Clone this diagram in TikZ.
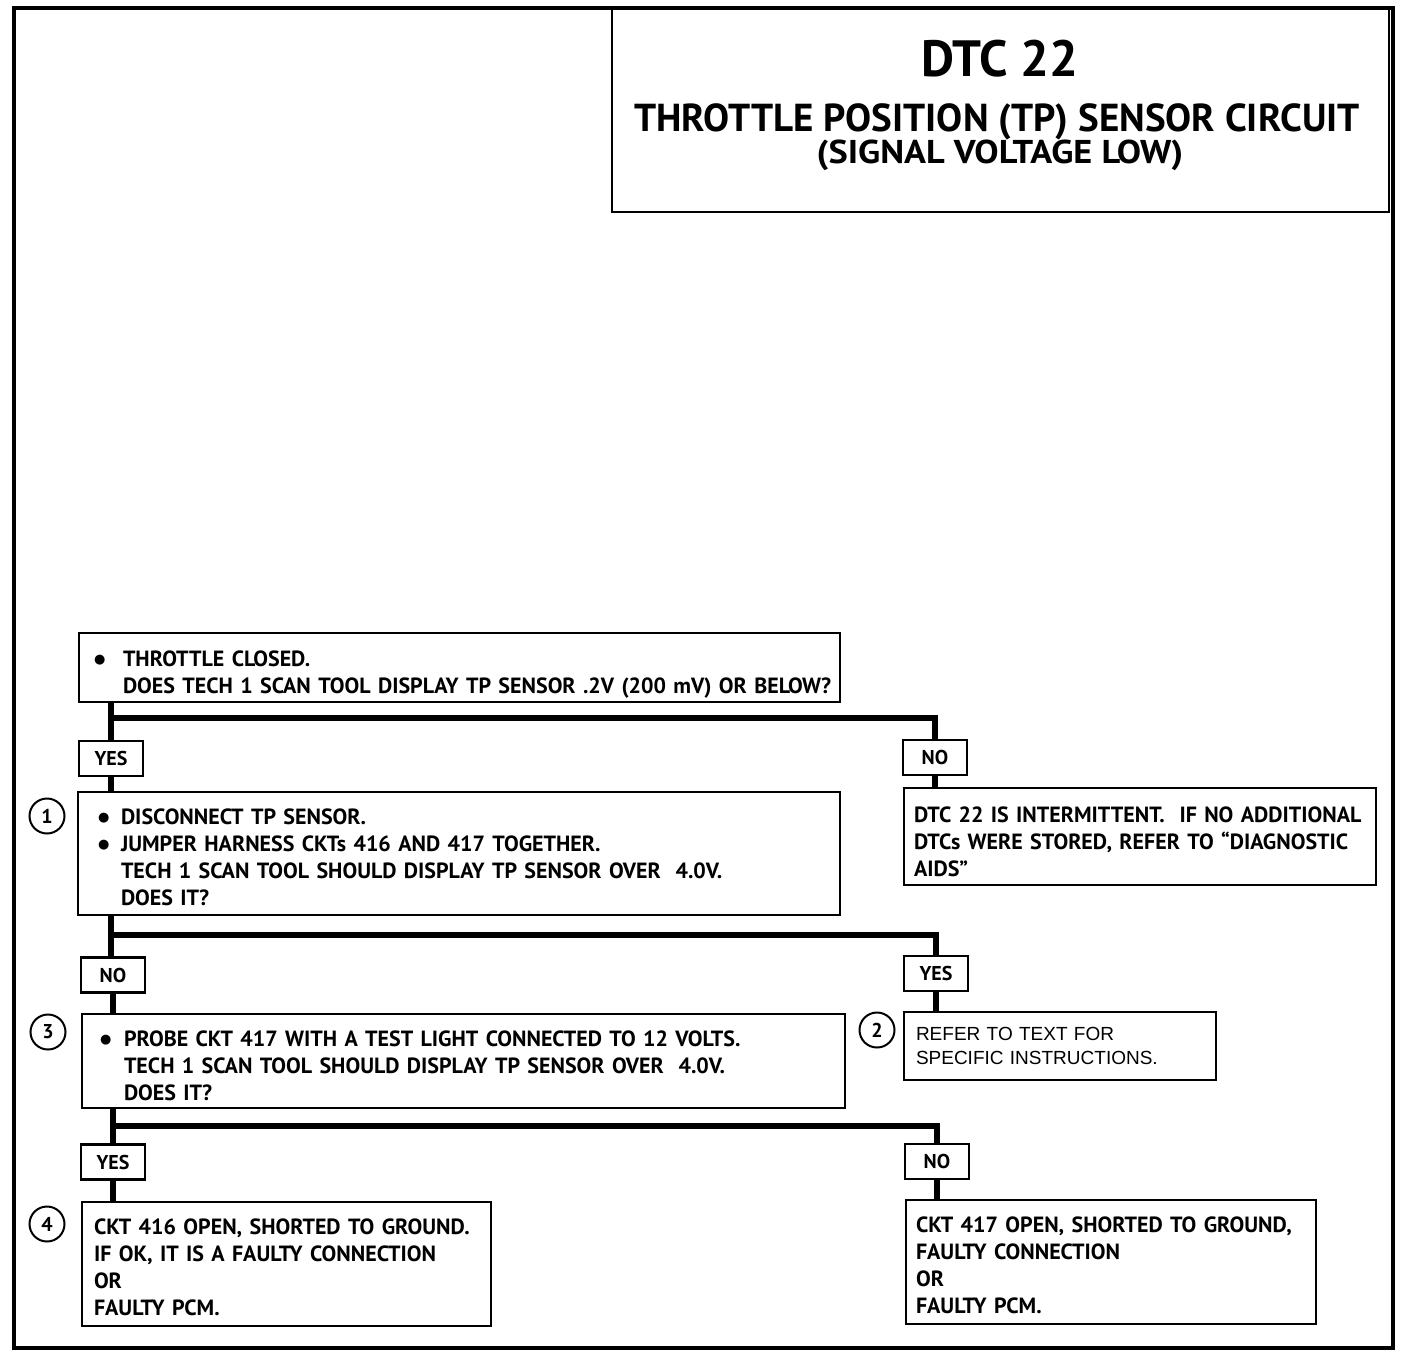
\documentclass[tikz,border=0pt]{standalone}
\usepackage{fontspec}
\setmainfont{PT Sans}
\newfontfamily\arialf{Liberation Sans}
\newfontfamily\dejavu{DejaVu Sans}
\newcommand\bul[1]{\makebox[#1][l]{\hspace*{1pt}\raisebox{3pt}{\dejavu\fontsize{13}{13}\selectfont ●}}}
\begin{document}
\begin{tikzpicture}[x=1pt,y=-1pt,
  frame/.style={draw,line width=2pt,rectangle,anchor=north west,inner sep=0pt},
  ttl/.style={anchor=base,inner sep=0pt,text depth=0pt},
  box/.style={draw,line width=2pt,rectangle,anchor=north west,align=left,inner ysep=0pt,
    font=\fontsize{22}{27}\selectfont\bfseries},
  lbl/.style={draw,line width=2.2pt,rectangle,minimum width=64pt,minimum height=35pt,inner sep=0pt,
    fill=white,font=\fontsize{20}{24}\selectfont\bfseries},
  conn/.style={line width=6pt},
  num/.style={circle,draw,line width=2pt,minimum size=35pt,inner sep=0pt,
    font=\fontsize{20}{20}\selectfont\bfseries}]
\useasboundingbox (0,0) rectangle (1408,1358);
\fill[white] (0,0) rectangle (1408,1358);
\draw[line width=4pt] (14,8) rectangle (1393,1348);

% title
\node[frame,minimum width=777pt,minimum height=203pt] (title) at (611,8) {};
\node[ttl,font=\fontsize{51}{51}\selectfont\bfseries] (t1) at (1000,76) {DTC 22};
\node[ttl,text height=27pt,font=\fontsize{39}{39}\selectfont\bfseries] (t2) at (997,131) {THROTTLE POSITION (TP) SENSOR CIRCUIT};
\node[ttl,text height=23pt,font=\fontsize{33}{33}\selectfont\bfseries\addfontfeature{FakeStretch=1.1}] (t3) at (1000,163) {(SIGNAL VOLTAGE LOW)};

% box A
\node[box,minimum height=69pt,inner xsep=14pt,text width=733pt] (A) at (78,632)
  {\mbox{\rule{0pt}{30pt}\bul{30pt}THROTTLE CLOSED.}\\
   \mbox{\hspace*{30pt}DOES TECH 1 SCAN TOOL DISPLAY TP SENSOR .2V (200 mV) OR BELOW?}};

\node[lbl] (yes1) at (111,758.5) {YES};
\node[lbl] (no1) at (935,757.5) {NO};
\coordinate (j1) at (111,718);

% box 1
\node[box,minimum height=123pt,inner xsep=19pt,text width=724pt] (B1) at (77,791)
  {\mbox{\rule{0pt}{23pt}\bul{24pt}DISCONNECT TP SENSOR.}\\
   \mbox{\bul{24pt}JUMPER HARNESS CKTs 416 AND 417 TOGETHER.}\\
   \mbox{\hspace*{24pt}TECH 1 SCAN TOOL SHOULD DISPLAY TP SENSOR OVER\ \ 4.0V.}\\
   \mbox{\hspace*{24pt}DOES IT?}};
\node[num] (n1) at (47,816) {1};

% intermittent
\node[box,minimum height=97pt,inner xsep=10pt,text width=452pt] (INT) at (903,787)
  {\mbox{\rule{0pt}{26pt}DTC 22 IS INTERMITTENT.\ \ IF NO ADDITIONAL}\\
   \mbox{DTCs WERE STORED, REFER TO ``DIAGNOSTIC}\\
   \mbox{AIDS''}};

\node[lbl] (no2) at (113,975) {NO};
\node[lbl] (yes2) at (936,973.5) {YES};
\coordinate (j2) at (111,935);

% box 3
\node[box,minimum height=94pt,inner xsep=17pt,text width=729pt] (B3) at (81,1013)
  {\mbox{\rule{0pt}{26pt}\bul{25pt}PROBE CKT 417 WITH A TEST LIGHT CONNECTED TO 12 VOLTS.}\\
   \mbox{\hspace*{25pt}TECH 1 SCAN TOOL SHOULD DISPLAY TP SENSOR OVER\ \ 4.0V.}\\
   \mbox{\hspace*{25pt}DOES IT?}};
\node[num] (n3) at (48,1032) {3};

% box 2
\node[box,minimum height=68pt,inner xsep=12pt,text width=288pt,
  font=\arialf\fontsize{19}{24}\selectfont] (B2) at (903,1011)
  {REFER TO TEXT FOR\\SPECIFIC INSTRUCTIONS.};
\node[num] (n2) at (877,1030) {2};

\node[lbl] (yes3) at (113,1162) {YES};
\node[lbl] (no3) at (937,1161.5) {NO};
\coordinate (j3) at (113,1126);

% box 4
\node[box,minimum height=124pt,inner xsep=12pt,text width=385pt] (B4) at (81,1201)
  {\mbox{\rule{0pt}{23pt}CKT 416 OPEN, SHORTED TO GROUND.}\\
   \mbox{IF OK, IT IS A FAULTY CONNECTION}\\
   OR\\
   FAULTY PCM.};
\node[num] (n4) at (47,1224) {4};

% box 5
\node[box,minimum height=124pt,inner xsep=10pt,text width=390pt] (B5) at (905,1199)
  {\mbox{\rule{0pt}{23pt}CKT 417 OPEN, SHORTED TO GROUND,}\\
   FAULTY CONNECTION\\
   OR\\
   FAULTY PCM.};

% connectors
\draw[conn] (yes1.north |- A.south) -- (yes1.north);
\draw[conn] (yes1.south) -- (yes1.south |- B1.north);
\draw[conn] (j1) -| (no1.north);
\draw[conn] (no1.south) -- (no1.south |- INT.north);

\draw[conn] (j2 |- B1.south) -- (j2) -- (no2.north -| j2);
\draw[conn] (no2.south) -- (no2.south |- B3.north);
\draw[conn] (j2) -| (yes2.north);
\draw[conn] (yes2.south) -- (yes2.south |- B2.north);

\draw[conn] (yes3.north |- B3.south) -- (yes3.north);
\draw[conn] (yes3.south) -- (yes3.south |- B4.north);
\draw[conn] (j3) -| (no3.north);
\draw[conn] (no3.south) -- (no3.south |- B5.north);
\end{tikzpicture}
\end{document}
